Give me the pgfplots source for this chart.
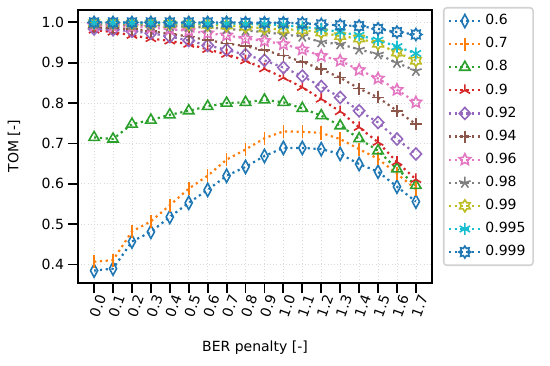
\documentclass[border=0pt]{standalone}
\usepackage{fontspec}
\setmainfont{DejaVu Sans}
\usepackage{pgfplots}
\usepackage{pgfplotstable}
\pgfplotsset{compat=1.18}
\definecolor{C0}{HTML}{1F77B4}
\definecolor{C1}{HTML}{FF7F0E}
\definecolor{C2}{HTML}{2CA02C}
\definecolor{C3}{HTML}{D62728}
\definecolor{C4}{HTML}{9467BD}
\definecolor{C5}{HTML}{8C564B}
\definecolor{C6}{HTML}{E377C2}
\definecolor{C7}{HTML}{7F7F7F}
\definecolor{C8}{HTML}{BCBD22}
\definecolor{C9}{HTML}{17BECF}

\pgfdeclareplotmark{pentagram}{%
\pgfpathmoveto{\pgfpointpolar{90}{\pgfplotmarksize}}%
\pgfpathlineto{\pgfpointpolar{126}{0.48\pgfplotmarksize}}%
\pgfpathlineto{\pgfpointpolar{162}{\pgfplotmarksize}}%
\pgfpathlineto{\pgfpointpolar{198}{0.48\pgfplotmarksize}}%
\pgfpathlineto{\pgfpointpolar{234}{\pgfplotmarksize}}%
\pgfpathlineto{\pgfpointpolar{270}{0.48\pgfplotmarksize}}%
\pgfpathlineto{\pgfpointpolar{306}{\pgfplotmarksize}}%
\pgfpathlineto{\pgfpointpolar{342}{0.48\pgfplotmarksize}}%
\pgfpathlineto{\pgfpointpolar{18}{\pgfplotmarksize}}%
\pgfpathlineto{\pgfpointpolar{54}{0.48\pgfplotmarksize}}%
\pgfpathclose\pgfusepathqstroke}

\pgfdeclareplotmark{hexagram}{%
\pgfpathmoveto{\pgfpointpolar{90}{\pgfplotmarksize}}%
\pgfpathlineto{\pgfpointpolar{120}{0.6\pgfplotmarksize}}%
\pgfpathlineto{\pgfpointpolar{150}{\pgfplotmarksize}}%
\pgfpathlineto{\pgfpointpolar{180}{0.6\pgfplotmarksize}}%
\pgfpathlineto{\pgfpointpolar{210}{\pgfplotmarksize}}%
\pgfpathlineto{\pgfpointpolar{240}{0.6\pgfplotmarksize}}%
\pgfpathlineto{\pgfpointpolar{270}{\pgfplotmarksize}}%
\pgfpathlineto{\pgfpointpolar{300}{0.6\pgfplotmarksize}}%
\pgfpathlineto{\pgfpointpolar{330}{\pgfplotmarksize}}%
\pgfpathlineto{\pgfpointpolar{0}{0.6\pgfplotmarksize}}%
\pgfpathlineto{\pgfpointpolar{30}{\pgfplotmarksize}}%
\pgfpathlineto{\pgfpointpolar{60}{0.6\pgfplotmarksize}}%
\pgfpathclose\pgfusepathqstroke}

\pgfdeclareplotmark{octagram}{%
\pgfpathmoveto{\pgfpointpolar{90}{\pgfplotmarksize}}%
\pgfpathlineto{\pgfpointpolar{112.5}{0.65\pgfplotmarksize}}%
\pgfpathlineto{\pgfpointpolar{135}{\pgfplotmarksize}}%
\pgfpathlineto{\pgfpointpolar{157.5}{0.65\pgfplotmarksize}}%
\pgfpathlineto{\pgfpointpolar{180}{\pgfplotmarksize}}%
\pgfpathlineto{\pgfpointpolar{202.5}{0.65\pgfplotmarksize}}%
\pgfpathlineto{\pgfpointpolar{225}{\pgfplotmarksize}}%
\pgfpathlineto{\pgfpointpolar{247.5}{0.65\pgfplotmarksize}}%
\pgfpathlineto{\pgfpointpolar{270}{\pgfplotmarksize}}%
\pgfpathlineto{\pgfpointpolar{292.5}{0.65\pgfplotmarksize}}%
\pgfpathlineto{\pgfpointpolar{315}{\pgfplotmarksize}}%
\pgfpathlineto{\pgfpointpolar{337.5}{0.65\pgfplotmarksize}}%
\pgfpathlineto{\pgfpointpolar{0}{\pgfplotmarksize}}%
\pgfpathlineto{\pgfpointpolar{22.5}{0.65\pgfplotmarksize}}%
\pgfpathlineto{\pgfpointpolar{45}{\pgfplotmarksize}}%
\pgfpathlineto{\pgfpointpolar{67.5}{0.65\pgfplotmarksize}}%
\pgfpathclose\pgfusepathqstroke}

\pgfplotstableread{
x    a     b     c     d     e     f     g     h     i     j     k
0.0  0.385 0.407 0.715 0.981 0.984 0.988 0.992 0.996 0.998 0.999 1.000
0.1  0.390 0.411 0.711 0.976 0.982 0.986 0.991 0.995 0.998 0.999 1.000
0.2  0.457 0.482 0.748 0.968 0.978 0.983 0.989 0.994 0.997 0.999 1.000
0.3  0.481 0.507 0.758 0.960 0.973 0.978 0.987 0.993 0.997 0.999 1.000
0.4  0.518 0.547 0.771 0.954 0.965 0.972 0.983 0.991 0.996 0.998 1.000
0.5  0.553 0.588 0.781 0.946 0.955 0.965 0.979 0.989 0.995 0.998 1.000
0.6  0.585 0.620 0.792 0.933 0.943 0.956 0.973 0.987 0.994 0.997 1.000
0.7  0.620 0.660 0.800 0.921 0.932 0.948 0.968 0.984 0.992 0.997 1.000
0.8  0.642 0.685 0.802 0.905 0.920 0.941 0.960 0.980 0.989 0.996 0.999
0.9  0.669 0.713 0.808 0.885 0.906 0.931 0.954 0.976 0.985 0.995 0.999
1.0  0.689 0.730 0.802 0.863 0.888 0.918 0.946 0.970 0.983 0.993 0.999
1.1  0.689 0.729 0.787 0.839 0.867 0.902 0.933 0.965 0.981 0.989 0.998
1.2  0.686 0.726 0.769 0.810 0.841 0.884 0.917 0.951 0.975 0.984 0.995
1.3  0.674 0.711 0.744 0.779 0.814 0.863 0.905 0.946 0.966 0.976 0.993
1.4  0.649 0.686 0.712 0.740 0.781 0.836 0.882 0.933 0.960 0.968 0.991
1.5  0.630 0.662 0.682 0.703 0.752 0.814 0.861 0.921 0.947 0.956 0.984
1.6  0.593 0.625 0.637 0.654 0.711 0.781 0.833 0.900 0.925 0.940 0.976
1.7  0.556 0.587 0.596 0.611 0.674 0.748 0.802 0.880 0.905 0.923 0.970
}\datatable

\begin{document}
\begin{tikzpicture}
\begin{axis}[
  name=ax,
  scale only axis,
  width=354pt, height=273pt,
  xmin=-0.085, xmax=1.785, ymin=0.3543, ymax=1.0307,
  xtick={0,0.1,0.2,0.3,0.4,0.5,0.6,0.7,0.8,0.9,1.0,1.1,1.2,1.3,1.4,1.5,1.6,1.7},
  ytick={0.4,0.5,0.6,0.7,0.8,0.9,1.0},
  /pgf/number format/fixed,
  /pgf/number format/fixed zerofill,
  /pgf/number format/precision=1,
  /pgf/number format/assume math mode=true,
  xtick pos=left, ytick pos=left,
  tick align=outside,
  major tick length=9.5pt,
  every tick/.style={black, line width=1.8pt},
  axis line style={line width=1.8pt},
  grid=major,
  grid style={gray!30, line width=0.8pt, dash pattern=on 1pt off 2.2pt},
  font=\fontsize{14}{17}\selectfont,
  xticklabel style={rotate=70, anchor=east, inner sep=1pt, xshift=1pt, yshift=-8pt},
  yticklabel style={xshift=-1pt},
  xlabel={BER penalty [-]},
  ylabel={TOM [-]},
  xlabel style={at={(axis description cs:0.5,-0.238)}, anchor=center},
  ylabel style={at={(axis description cs:-0.181,0.5)}, anchor=center},
  legend cell align=left,
  legend style={at={(1.031,1.011)}, anchor=north west, draw=gray!35, line width=1.6pt,
    rounded corners=3pt, font=\fontsize{14}{17}\selectfont,
    nodes={inner sep=3.5pt, text height=10.5pt, text depth=3pt}, row sep=2.6pt,
    inner xsep=4pt, inner ysep=3pt},
  legend image code/.code={\draw[mark repeat=2,mark phase=2,#1] plot coordinates {(0pt,0pt)(16pt,0pt)(32pt,0pt)};},
  every axis plot/.append style={line width=2.2pt, dash pattern=on 2.2pt off 3.6pt},
  mark size=6pt,
]
\addplot[C0, mark=diamond, mark options={solid, line width=1.6pt, xscale=0.8, yscale=1.1}] table[x=x,y=a]{\datatable};
\addlegendentry{0.6}
\addplot[C1, mark=|, mark options={solid, line width=1.6pt, yscale=1.1}] table[x=x,y=b]{\datatable};
\addlegendentry{0.7}
\addplot[C2, mark=triangle, mark options={solid, line width=1.6pt}] table[x=x,y=c]{\datatable};
\addlegendentry{0.8}
\addplot[C3, mark=Mercedes star, mark options={solid, line width=1.6pt}] table[x=x,y=d]{\datatable};
\addlegendentry{0.9}
\addplot[C4, mark=diamond, mark options={solid, line width=1.6pt, xscale=1.25}] table[x=x,y=e]{\datatable};
\addlegendentry{0.92}
\addplot[C5, mark=+, mark options={solid, line width=1.6pt}] table[x=x,y=f]{\datatable};
\addlegendentry{0.94}
\addplot[C6, mark=pentagram, mark options={solid, line width=1.6pt}] table[x=x,y=g]{\datatable};
\addlegendentry{0.96}
\addplot[C7, mark=star, mark options={solid, line width=1.6pt}] table[x=x,y=h]{\datatable};
\addlegendentry{0.98}
\addplot[C8, mark=hexagram, mark options={solid, line width=1.6pt}] table[x=x,y=i]{\datatable};
\addlegendentry{0.99}
\addplot[C9, mark=asterisk, mark options={solid, line width=1.6pt}] table[x=x,y=j]{\datatable};
\addlegendentry{0.995}
\addplot[C0, mark=octagram, mark options={solid, line width=1.6pt}] table[x=x,y=k]{\datatable};
\addlegendentry{0.999}
\end{axis}
\pgfresetboundingbox
\path ([xshift=-78pt,yshift=-82pt]ax.south west) rectangle ([xshift=118pt,yshift=10pt]ax.north east);
\end{tikzpicture}
\end{document}
